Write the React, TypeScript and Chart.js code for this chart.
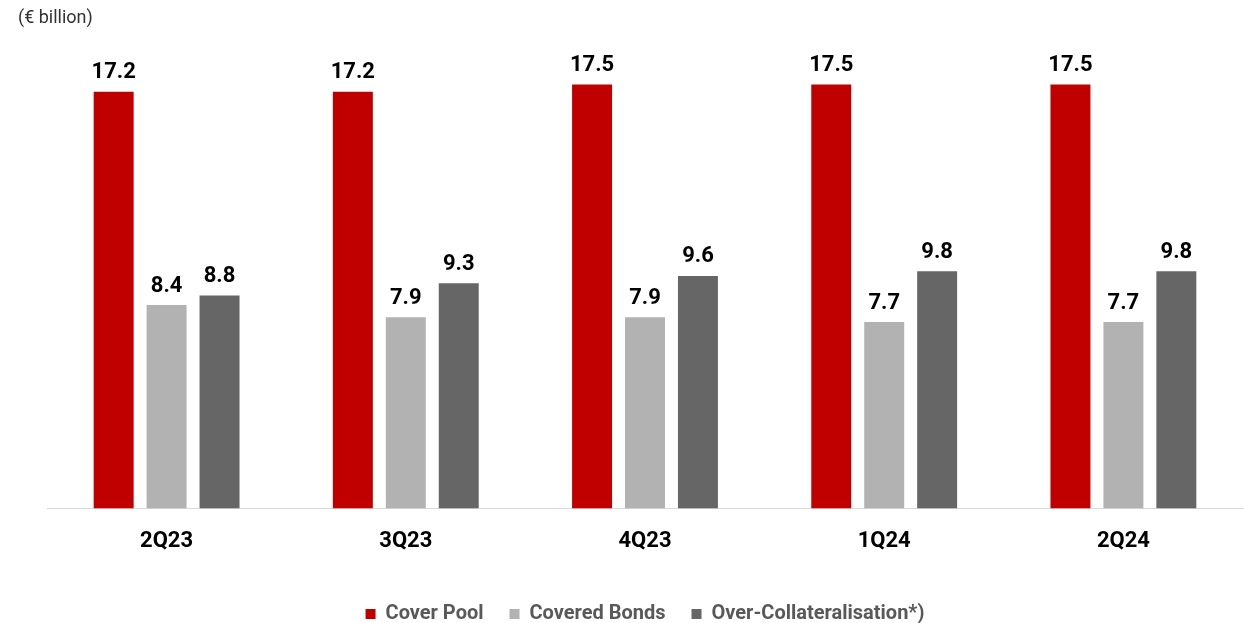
import React, { useEffect, useRef } from "react";
import { Chart, registerables } from "chart.js";

Chart.register(...registerables);

const categories = ["2Q23", "3Q23", "4Q23", "1Q24", "2Q24"];
const coverPool = [17.2, 17.2, 17.5, 17.5, 17.5];
const coveredBonds = [8.4, 7.9, 7.9, 7.7, 7.7];
const overCollateralisation = [8.8, 9.3, 9.6, 9.8, 9.8];
const seriesNames = ["Cover Pool", "Covered Bonds", "Over-Collateralisation*)"];
const unitLabel = "(€ billion)";

const FONT = "Roboto, 'Noto Sans', sans-serif";

const valueLabels = {
  id: "valueLabels",
  afterDatasetsDraw(chart: any) {
    const ctx = chart.ctx;
    ctx.save();
    ctx.fillStyle = "#000000";
    ctx.font = `bold 22px ${FONT}`;
    ctx.textAlign = "center";
    ctx.textBaseline = "bottom";
    chart.data.datasets.forEach((ds: any, i: number) => {
      const meta = chart.getDatasetMeta(i);
      meta.data.forEach((bar: any, j: number) => {
        ctx.fillText(ds.data[j].toFixed(1), bar.x, bar.y - 8);
      });
    });
    ctx.restore();
  },
};

const unitText = {
  id: "unitText",
  afterDraw(chart: any) {
    const ctx = chart.ctx;
    ctx.save();
    ctx.fillStyle = "#333333";
    ctx.font = `18px ${FONT}`;
    ctx.textAlign = "left";
    ctx.textBaseline = "middle";
    ctx.fillText(unitLabel, 18, 18);
    ctx.restore();
  },
};

export default function App() {
  const ref = useRef<HTMLCanvasElement>(null);
  useEffect(() => {
    if (!ref.current) return;
    const chart = new Chart(ref.current, {
      type: "bar",
      data: {
        labels: categories,
        datasets: [
          { label: seriesNames[0], data: coverPool, backgroundColor: "#C00000" },
          { label: seriesNames[1], data: coveredBonds, backgroundColor: "#B2B2B2" },
          { label: seriesNames[2], data: overCollateralisation, backgroundColor: "#666666" },
        ],
      },
      options: {
        animation: false,
        responsive: false,
        maintainAspectRatio: false,
        layout: { padding: { left: 47, right: 2, top: 24, bottom: -11 } },
        datasets: { bar: { categoryPercentage: 0.664, barPercentage: 0.755 } },
        scales: {
          x: {
            grid: { display: false, drawTicks: false },
            border: { display: true, color: "#D9D9D9", width: 1 },
            ticks: { color: "#000000", font: { family: FONT, size: 22, weight: "bold" }, padding: 20 },
            afterFit: (scale: any) => {
              scale.height += 3;
            },
          },
          y: { display: false, min: 0, max: 20 },
        },
        plugins: {
          legend: {
            position: "bottom",
            labels: {
              boxWidth: 10,
              boxHeight: 10,
              color: "#595959",
              padding: 26,
              font: { family: FONT, size: 20, weight: "bold" },
            },
          },
          tooltip: { enabled: false },
        },
      },
      plugins: [valueLabels, unitText],
    });
    return () => chart.destroy();
  }, []);
  return (
    <div style={{ position: "absolute", left: 0, top: 0, width: 1245, height: 623 }}>
      <canvas ref={ref} width={1245} height={623} style={{ width: 1245, height: 623 }} />
    </div>
  );
}
